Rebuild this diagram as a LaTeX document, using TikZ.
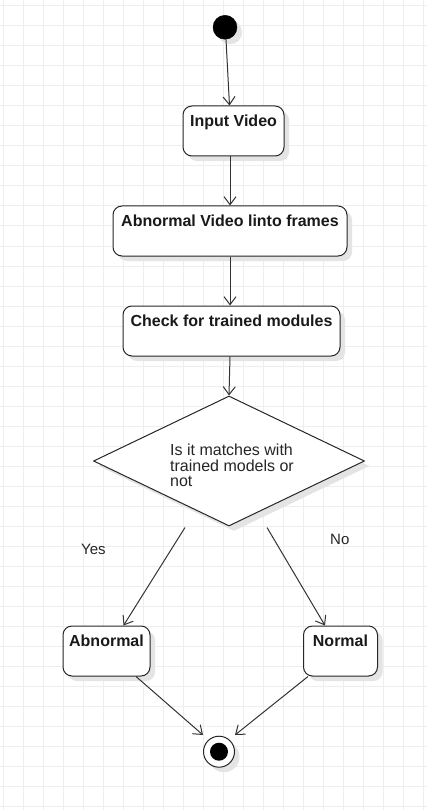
\documentclass[tikz,border=0pt]{standalone}
\usepackage{fontspec}
\setmainfont{Liberation Sans}
\usetikzlibrary{shapes.geometric,arrows.meta,shadows}
\definecolor{gridc}{HTML}{EEEEEE}
\definecolor{linec}{HTML}{333333}
\definecolor{shadc}{HTML}{E4E4E4}
\begin{document}
\begin{tikzpicture}[x=1pt,y=-1pt,
  shad/.style={drop shadow={shadow xshift=5pt,shadow yshift=-5pt,fill=shadc,opacity=1}},
  box/.style={draw=black!85,line width=1pt,rounded corners=9pt,fill=white,inner sep=0pt,shad},
  lbl/.style={below=9pt,inner sep=0pt,font=\bfseries\fontsize{16}{19}\selectfont,text=black!90},
  plain/.style={inner sep=0pt,font=\fontsize{16}{15.8}\selectfont,text=black!85},
  conn/.style={draw=linec,line width=1pt,-{Straight Barb[length=8pt,width=12pt,line width=1pt]}}
]
\useasboundingbox (0,0) rectangle (427,810);
\fill[white] (0,0) rectangle (427,810);
\foreach \i in {0,...,21} \draw[gridc,line width=1pt] (3.3+20*\i,0) -- (3.3+20*\i,810);
\foreach \j in {0,...,40} \draw[gridc,line width=1pt] (0,6+20*\j) -- (427,6+20*\j);

\node[circle,fill=black,draw=black,minimum size=24pt,inner sep=0pt,shad] (start) at (225,27.3) {};
\node[box,minimum width=101pt,minimum height=50pt,label={[lbl]north:Input Video}] (input) at (233.5,131) {};
\node[box,minimum width=234pt,minimum height=50pt,label={[lbl]north:Abnormal Video linto frames}] (abvid) at (230,231) {};
\node[box,minimum width=217pt,minimum height=50pt,label={[lbl]north:Check for trained modules}] (check) at (231.5,331) {};
\node[diamond,draw=black!85,line width=1pt,fill=white,minimum width=271pt,minimum height=130pt,aspect=2.085,inner sep=0pt,shad] (dia) at (229,461) {};
\node[plain,anchor=north west,align=left] (dtext) at (170,443.5) {Is it matches with\\trained models or\\not};
\node[box,minimum width=87pt,minimum height=50pt,label={[lbl]north:Abnormal}] (abn) at (106.5,651) {};
\node[box,minimum width=74pt,minimum height=50pt,label={[lbl]north:Normal}] (norm) at (340.5,651) {};
\node[circle,draw=black!85,line width=1pt,fill=white,minimum size=31pt,inner sep=0pt,shad] (fin) at (219,751.7) {};
\node[circle,fill=black,minimum size=18pt,inner sep=0pt] (fininner) at (fin.center) {};

\node[plain,font=\fontsize{15}{18}\selectfont,anchor=base west] (yes) at (81,554) {Yes};
\node[plain,font=\fontsize{15}{18}\selectfont,anchor=base west] (no) at (330,544) {No};

\draw[conn] ([xshift=1pt]start.south) -- ([xshift=-4pt]input.north);
\draw[conn] ([xshift=-3.5pt]input.south) -- (abvid.north);
\draw[conn] (abvid.south) -- (abvid.south |- check.north);
\draw[conn] ([xshift=-1.5pt]check.south) -- (dia.north);
\draw[conn] ([xshift=-44pt,yshift=-1pt]dia.south) -- ([xshift=17pt]abn.north);
\draw[conn] ([xshift=38pt,yshift=-1pt]dia.south) -- ([xshift=-15.5pt]norm.north);
\draw[conn] ([xshift=29.5pt]abn.south) -- ([xshift=-16pt,yshift=16.7pt]fin.center);
\draw[conn] ([xshift=-32.5pt]norm.south) -- ([xshift=16pt,yshift=16.7pt]fin.center);
\end{tikzpicture}
\end{document}
